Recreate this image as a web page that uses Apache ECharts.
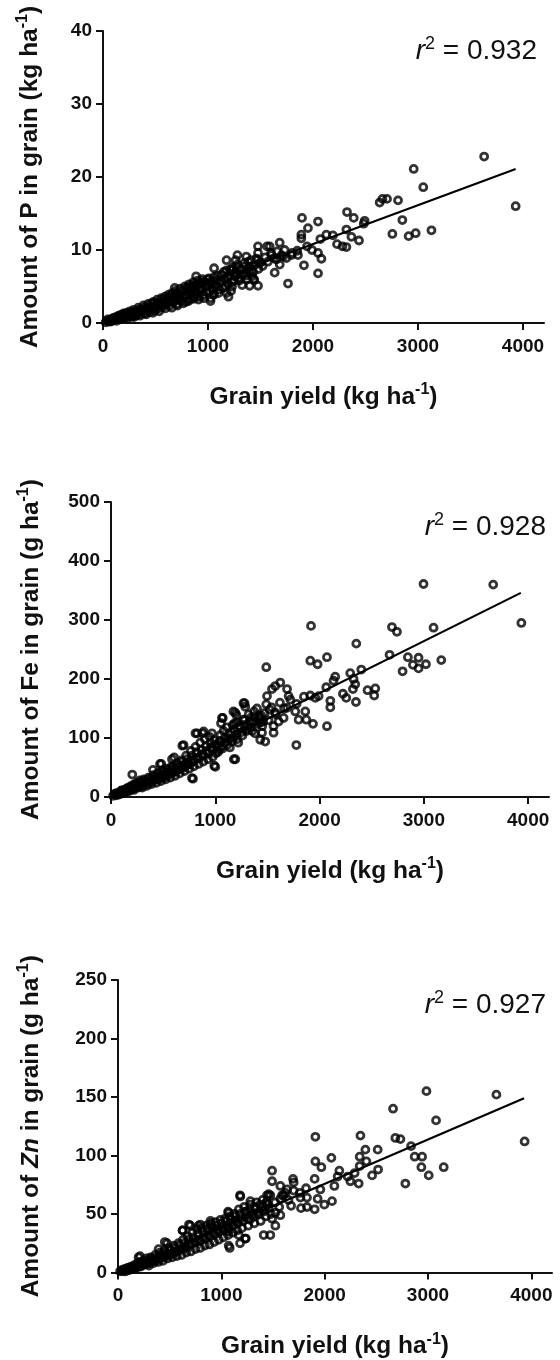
<!DOCTYPE html>
<html><head><meta charset="utf-8">
<script src="https://cdn.jsdelivr.net/npm/echarts@6.0.0/dist/echarts.min.js"></script>
<style>html,body{margin:0;padding:0;background:#fff}#c{width:560px;height:1360px}</style>
</head><body><div id="c"></div>
<script>
// ---------- data ----------
const xTicks = [0, 1000, 2000, 3000, 4000];
const pTicks = [0, 10, 20, 30, 40];
const feTicks = [0, 100, 200, 300, 400, 500];
const znTicks = [0, 50, 100, 150, 200, 250];
const r2Values = ['0.932', '0.928', '0.927'];

// P in grain (kg/ha) vs grain yield (kg/ha)
const pDense = [[25,0.1],[40,0.3],[55,0.2],[70,0.5],[85,0.3],[95,0.6],[110,0.4],[120,0.8],[135,0.6],[145,0.9],[160,0.5],[170,1.1],[180,0.8],[195,1.3],[205,0.7],[215,1.0],[230,1.4],[240,0.9],[255,1.6],[265,1.2],[275,0.9],[290,1.8],[300,1.3],[310,1.0],[325,1.6],[335,2.1],[345,1.2],[360,1.8],[370,1.5],[385,2.4],[395,1.3],[405,2.0],[420,1.7],[430,2.6],[445,1.5],[455,2.2],[470,1.9],[480,2.9],[495,1.7],[505,2.4],[515,3.2],[530,2.0],[540,2.7],[555,3.4],[565,2.2],[575,2.9],[590,3.6],[600,2.5],[610,3.1],[625,3.9],[635,2.4],[645,3.3],[660,4.1],[670,2.8],[680,3.6],[690,4.4],[705,2.6],[715,3.2],[725,3.9],[735,4.7],[745,3.0],[760,3.6],[770,4.3],[780,5.0],[790,2.9],[800,3.9],[810,4.6],[820,5.3],[830,3.3],[840,4.1],[850,4.9],[860,5.6],[870,3.6],[880,4.4],[890,5.1],[900,5.8],[910,3.2],[920,4.6],[930,5.4],[945,6.0],[955,3.8],[965,4.9],[975,5.6],[990,4.2],[1000,5.1],[1010,6.1],[1025,3.4],[1035,5.4],[1045,4.6],[1060,6.3],[1075,5.0],[1085,5.9],[1100,4.1],[1115,5.5],[1130,6.6],[1145,4.8],[1160,6.0],[1175,7.2],[1190,5.3],[1205,6.5],[1220,4.4],[1235,7.6],[1250,5.8],[1265,6.9],[1280,8.0],[1295,6.2],[1310,7.3],[1325,5.2],[1340,6.7],[1355,7.8],[1370,6.0],[1385,8.4],[1400,7.1],[1420,6.4],[1440,7.9],[1460,8.8],[1480,7.4],[1500,8.3],[1520,7.8],[1545,9.0],[1570,8.4],[1600,9.6],[1630,8.9],[1660,9.8],[1700,9.3],[1730,10.0],[1800,9.6],[1850,9.9]];
const pDense2 = [[45,0.5],[75,0.2],[100,0.7],[130,0.3],[150,1.0],[175,0.6],[190,0.9],[220,1.3],[235,0.6],[260,1.0],[280,1.5],[295,0.8],[318,1.3],[340,1.8],[352,1.0],[378,1.6],[398,2.1],[412,1.2],[438,2.0],[462,2.7],[475,1.4],[500,2.2],[520,2.8],[535,1.6],[560,2.5],[580,3.3],[595,2.0],[615,2.8],[640,3.6],[655,2.1],[675,3.0],[700,4.1],[710,2.4],[730,3.4],[755,4.5],[765,2.7],[785,3.7],[805,4.9],[815,3.0],[835,4.4],[855,5.2],[865,3.3],[885,4.0],[905,5.4],[915,3.6],[935,4.8],[950,5.7],[960,3.4],[985,5.0],[995,6.0],[1015,4.4],[1030,5.7],[1050,3.9],[1070,5.3],[1090,6.5],[1105,4.6],[1125,5.8],[1150,7.0],[1165,5.0],[1185,6.3],[1210,7.3],[1230,5.6],[1255,6.4],[1275,7.6],[1300,5.8],[1320,6.6],[1345,8.2],[1365,6.5],[1390,7.6],[1410,8.6],[1430,7.0]];
const pSpread = [[3630,22.8],[2959,21.1],[3050,18.6],[3930,16.0],[3128,12.7],[2978,12.3],[2911,11.9],[2756,12.2],[2851,14.1],[2810,16.8],[2705,17.0],[2661,17.0],[2635,16.5],[2492,14.0],[2483,13.6],[2388,14.4],[2324,15.2],[2318,12.8],[2438,11.3],[2366,11.8],[2318,10.4],[2280,10.5],[2229,10.8],[2190,12.0],[2127,12.1],[2070,11.5],[2048,13.9],[1952,13.0],[1895,14.4],[1889,12.1],[1889,11.6],[1943,10.5],[1990,10.0],[2048,9.6],[2080,8.8],[1914,7.9],[2048,6.8],[1762,5.4],[1857,9.3],[1794,9.3],[1747,8.9],[1683,8.0],[1635,6.9],[1683,11.0],[1588,10.5],[1562,10.5],[1476,10.5],[1604,9.3],[1476,9.6],[1476,5.1],[1397,5.1],[1435,6.0],[1492,8.2],[1651,8.7],[1714,9.1],[1177,8.6],[1195,3.6],[1177,4.1],[1058,7.5],[1058,3.9],[1024,3.0],[887,6.4],[683,4.8],[1263,8.6],[1280,9.3],[1229,7.3],[1229,5.0],[1399,7.7],[1365,9.1],[1468,8.6],[1440,5.9]];
const pFit = [[30,0.3],[3930,21.1]];

// Fe in grain (g/ha)
const feDense = [[20,2],[35,5],[50,3],[65,7],[80,5],[95,10],[110,6],[125,12],[140,9],[155,15],[170,11],[185,18],[200,13],[215,21],[230,15],[245,24],[260,18],[275,28],[290,21],[300,16],[315,30],[330,24],[345,19],[360,33],[375,27],[390,22],[405,37],[420,29],[435,24],[450,41],[465,33],[480,27],[495,45],[510,36],[525,30],[540,48],[555,39],[570,33],[585,52],[600,42],[615,36],[630,57],[645,46],[660,40],[675,62],[690,50],[705,44],[720,70],[735,55],[750,48],[765,78],[780,60],[795,52],[810,85],[825,66],[840,56],[855,92],[870,72],[885,60],[900,98],[915,78],[930,64],[945,102],[960,84],[975,68],[990,96],[1005,74],[1020,90],[1035,80],[1050,105],[1065,86],[1080,112],[1095,92],[1110,118],[1125,98],[1140,84],[1155,110],[1170,100],[1185,125],[1200,106],[1220,92],[1240,118],[1260,104],[1280,130],[1300,112],[1320,140],[1340,118],[1360,128],[1380,108],[1400,150],[1420,132],[1450,120],[1470,142],[1510,130],[1540,152],[1580,140],[1620,160],[1660,150],[1720,165],[1780,158],[1850,170]];
const feDense2 = [[45,6],[75,4],[100,11],[130,8],[150,14],[175,10],[195,17],[220,12],[240,20],[265,16],[285,25],[305,19],[325,28],[350,22],[370,31],[395,26],[415,35],[440,30],[460,38],[485,32],[505,42],[530,35],[550,46],[575,40],[595,50],[620,44],[640,54],[665,48],[685,60],[710,52],[730,64],[755,56],[775,70],[800,62],[820,76],[845,66],[865,80],[890,70],[910,86],[935,74],[955,92],[980,80],[1000,88],[1025,76],[1045,95],[1070,82],[1090,100],[1115,88],[1135,106],[1160,94],[1180,114],[1210,98],[1230,120],[1255,110],[1275,122],[1310,116],[1330,128],[1355,112],[1375,136],[1410,124],[1440,138],[1460,128]];
const feSpread = [[3665,360],[2997,361],[3093,287],[3935,295],[3167,232],[3020,225],[2949,218],[2949,236],[2895,224],[2847,237],[2796,213],[2694,288],[2742,280],[2671,241],[2400,216],[2352,260],[2294,210],[2326,200],[2342,191],[2320,183],[2349,161],[2224,175],[2256,168],[2460,181],[2534,184],[2524,172],[2071,237],[2150,204],[2134,197],[2064,186],[2103,163],[2103,152],[2071,120],[1918,290],[1911,231],[1981,225],[1911,172],[1959,168],[1937,124],[1777,88],[1489,220],[1991,171],[1863,145],[1767,145],[1799,131],[1873,131],[1688,151],[1703,171],[1688,183],[1623,194],[1575,188],[1544,183],[1496,171],[1489,157],[1521,148],[1575,143],[1559,120],[1607,128],[1655,134],[1431,126],[1448,109],[1479,94],[1431,97],[1559,109],[1072,134],[1055,125],[1174,145],[1168,122],[1202,139],[1270,159],[1287,153],[1270,131],[1338,134],[1372,145],[1423,136],[1178,64],[963,83],[990,53],[878,108],[810,108],[776,32],[684,87],[606,67],[470,56],[204,38],[402,46],[482,56],[585,64],[696,88],[825,108],[888,111],[968,108],[1064,134],[1192,143],[1281,159],[786,31],[1000,51],[1192,64],[1208,126]];
const feFit = [[30,3],[3930,346]];

// Zn in grain (g/ha)
const znDense = [[20,1],[35,2],[50,1],[65,3],[80,2],[95,4],[110,2],[125,5],[140,3],[155,6],[170,4],[185,8],[200,5],[215,9],[230,6],[245,10],[260,7],[275,12],[290,8],[300,6],[315,13],[330,10],[345,8],[360,15],[375,11],[390,9],[405,17],[420,13],[435,10],[450,19],[465,15],[480,12],[495,21],[510,16],[525,13],[540,23],[555,18],[570,14],[585,25],[600,20],[615,15],[630,28],[645,22],[660,17],[675,31],[690,24],[705,18],[720,34],[735,26],[750,20],[765,37],[780,28],[795,21],[810,38],[825,30],[840,23],[855,40],[870,32],[885,24],[900,42],[915,34],[930,26],[945,43],[960,36],[975,28],[990,45],[1005,38],[1020,30],[1035,46],[1050,40],[1065,32],[1080,48],[1095,42],[1110,34],[1125,50],[1140,44],[1155,36],[1170,54],[1185,46],[1200,38],[1220,56],[1240,48],[1260,40],[1280,58],[1300,50],[1320,42],[1340,60],[1360,52],[1380,44],[1400,62],[1420,54],[1450,58],[1480,50],[1520,60],[1560,56],[1600,66],[1650,62],[1700,70],[1760,68],[1820,72]];
const znDense2 = [[45,2],[75,1],[100,4],[130,3],[150,5],[175,4],[195,7],[220,5],[240,8],[265,7],[285,10],[305,8],[325,12],[350,10],[370,13],[395,12],[415,15],[440,13],[460,17],[485,15],[505,19],[530,16],[550,21],[575,18],[595,23],[620,20],[640,25],[665,21],[685,28],[710,24],[730,30],[755,26],[775,33],[800,27],[820,35],[845,29],[865,37],[890,31],[910,39],[935,33],[955,40],[980,35],[1000,42],[1025,36],[1045,44],[1070,38],[1090,46],[1115,40],[1135,48],[1160,42],[1180,50],[1210,44],[1230,52],[1255,46],[1275,54],[1310,48],[1330,56],[1355,50],[1375,58],[1410,52],[1440,60],[1460,55]];
const znSpread = [[3662,152],[2985,155],[3078,130],[3935,112],[2662,140],[3152,90],[3007,83],[2936,90],[2871,99],[2943,99],[2836,108],[2781,76],[2684,115],[2733,114],[2513,105],[2517,88],[2459,83],[2346,117],[2394,105],[2339,99],[2404,95],[2339,91],[2290,85],[2329,76],[2249,78],[2223,82],[2142,87],[2126,82],[2065,98],[2094,74],[2071,61],[1997,58],[1910,116],[1910,95],[1968,90],[1903,80],[1958,71],[1932,63],[1903,54],[1829,56],[1771,55],[1829,64],[1765,64],[1694,80],[1700,77],[1636,71],[1571,74],[1620,68],[1675,57],[1588,66],[1491,87],[1491,78],[1571,63],[1474,66],[1436,60],[1523,51],[1491,46],[1523,40],[1474,32],[1410,32],[1571,49],[199,13],[474,25],[393,20],[625,36],[700,40],[780,40],[894,44],[1071,51],[1184,65],[1281,61],[1458,67],[1168,32],[1232,29],[1081,21],[1277,45],[1243,52],[1181,66],[1236,29],[1181,25],[1071,23],[1071,35],[1065,52],[893,41],[797,41],[687,41],[625,36],[453,26],[213,14],[1329,55],[1432,48],[1408,56],[1442,66]];
const znFit = [[30,1],[3930,149]];

// ---------- layout & style ----------
const FONT = '"Liberation Sans", Arial, Helvetica, sans-serif';
const INK = '#111';
const grids = [
  {left: 103, top: 31, width: 441, height: 292},
  {left: 111, top: 502, width: 438, height: 295},
  {left: 118, top: 980, width: 434, height: 294}
];
const yMax = [40, 500, 250];
const yInt = [10, 100, 50];
const yTickLists = [pTicks, feTicks, znTicks];
const yNameGap = [58, 65, 72];
const titleRich = {
  t: {fontFamily: FONT, fontWeight: 'bold', fontSize: 24.5, color: INK},
  it: {fontFamily: FONT, fontWeight: 'bold', fontStyle: 'italic', fontSize: 24.5, color: INK},
  s: {fontFamily: FONT, fontWeight: 'bold', fontSize: 16, color: INK, padding: [0, 0, 14, 0]}
};
const yNames = [
  '{t|Amount of P in grain (kg ha}{s|-1}{t|)}',
  '{t|Amount of Fe in grain (g ha}{s|-1}{t|)}',
  '{t|Amount of }{it|Zn}{t| in grain (g ha}{s|-1}{t|)}'
];
const xName = '{t|Grain yield (kg ha}{s|-1}{t|)}';

const axisCommon = {
  axisLine: {show: true, onZero: false, lineStyle: {color: INK, width: 2}},
  axisTick: {show: true, inside: false, length: 7, lineStyle: {color: INK, width: 2}},
  splitLine: {show: false},
  axisLabel: {color: INK, fontFamily: FONT, fontWeight: 'bold', fontSize: 19, formatter: v => String(v)}
};

const xAxes = [], yAxes = [], series = [], graphics = [];
const sets = [[pDense, pDense2, pSpread, pFit], [feDense, feDense2, feSpread, feFit], [znDense, znDense2, znSpread, znFit]];
for (let i = 0; i < 3; i++) {
  xAxes.push(Object.assign({}, axisCommon, {
    type: 'value', gridIndex: i, min: 0, max: 4200, interval: 1000,
    axisTick: Object.assign({}, axisCommon.axisTick, {customValues: xTicks}),
    axisLabel: Object.assign({}, axisCommon.axisLabel, {margin: 14, customValues: xTicks}),
    name: xName, nameLocation: 'middle', nameGap: 59,
    nameTextStyle: {rich: titleRich}
  }));
  yAxes.push(Object.assign({}, axisCommon, {
    type: 'value', gridIndex: i, min: 0, max: yMax[i], interval: yInt[i],
    axisTick: Object.assign({}, axisCommon.axisTick, {customValues: yTickLists[i]}),
    axisLabel: Object.assign({}, axisCommon.axisLabel, {margin: 11, customValues: yTickLists[i]}),
    name: yNames[i], nameLocation: 'middle', nameGap: yNameGap[i], nameRotate: 90,
    nameTextStyle: {rich: titleRich}
  }));
  const pts = sets[i][0].concat(sets[i][1], sets[i][2]);
  series.push({
    type: 'scatter', xAxisIndex: i, yAxisIndex: i, data: pts,
    symbol: 'circle', symbolSize: 7,
    itemStyle: {color: 'rgba(255,255,255,0)', borderColor: '#000', borderWidth: 2.8},
    silent: true, z: 2
  });
  series.push({
    type: 'line', xAxisIndex: i, yAxisIndex: i, data: sets[i][3],
    symbol: 'none', lineStyle: {color: '#000', width: 2.2}, silent: true, z: 3
  });
}
const r2Pos = [[537, 51], [546, 527], [546, 1005]];
for (let i = 0; i < 3; i++) {
  graphics.push({
    type: 'text', x: r2Pos[i][0], y: r2Pos[i][1], silent: true,
    style: {
      text: '{r|r}{s|2}{n| = ' + r2Values[i] + '}',
      align: 'right', verticalAlign: 'middle',
      rich: {
        r: {fontFamily: FONT, fontStyle: 'italic', fontSize: 28, fill: INK, color: INK},
        s: {fontFamily: FONT, fontSize: 18, fill: INK, color: INK, padding: [0, 0, 14, 0]},
        n: {fontFamily: FONT, fontSize: 28, fill: INK, color: INK}
      }
    }
  });
}

const chart = echarts.init(document.getElementById('c'), null, {renderer: 'canvas'});
chart.setOption({
  animation: false,
  backgroundColor: '#fff',
  grid: grids,
  xAxis: xAxes,
  yAxis: yAxes,
  series: series,
  graphic: graphics
});
</script>
</body></html>
